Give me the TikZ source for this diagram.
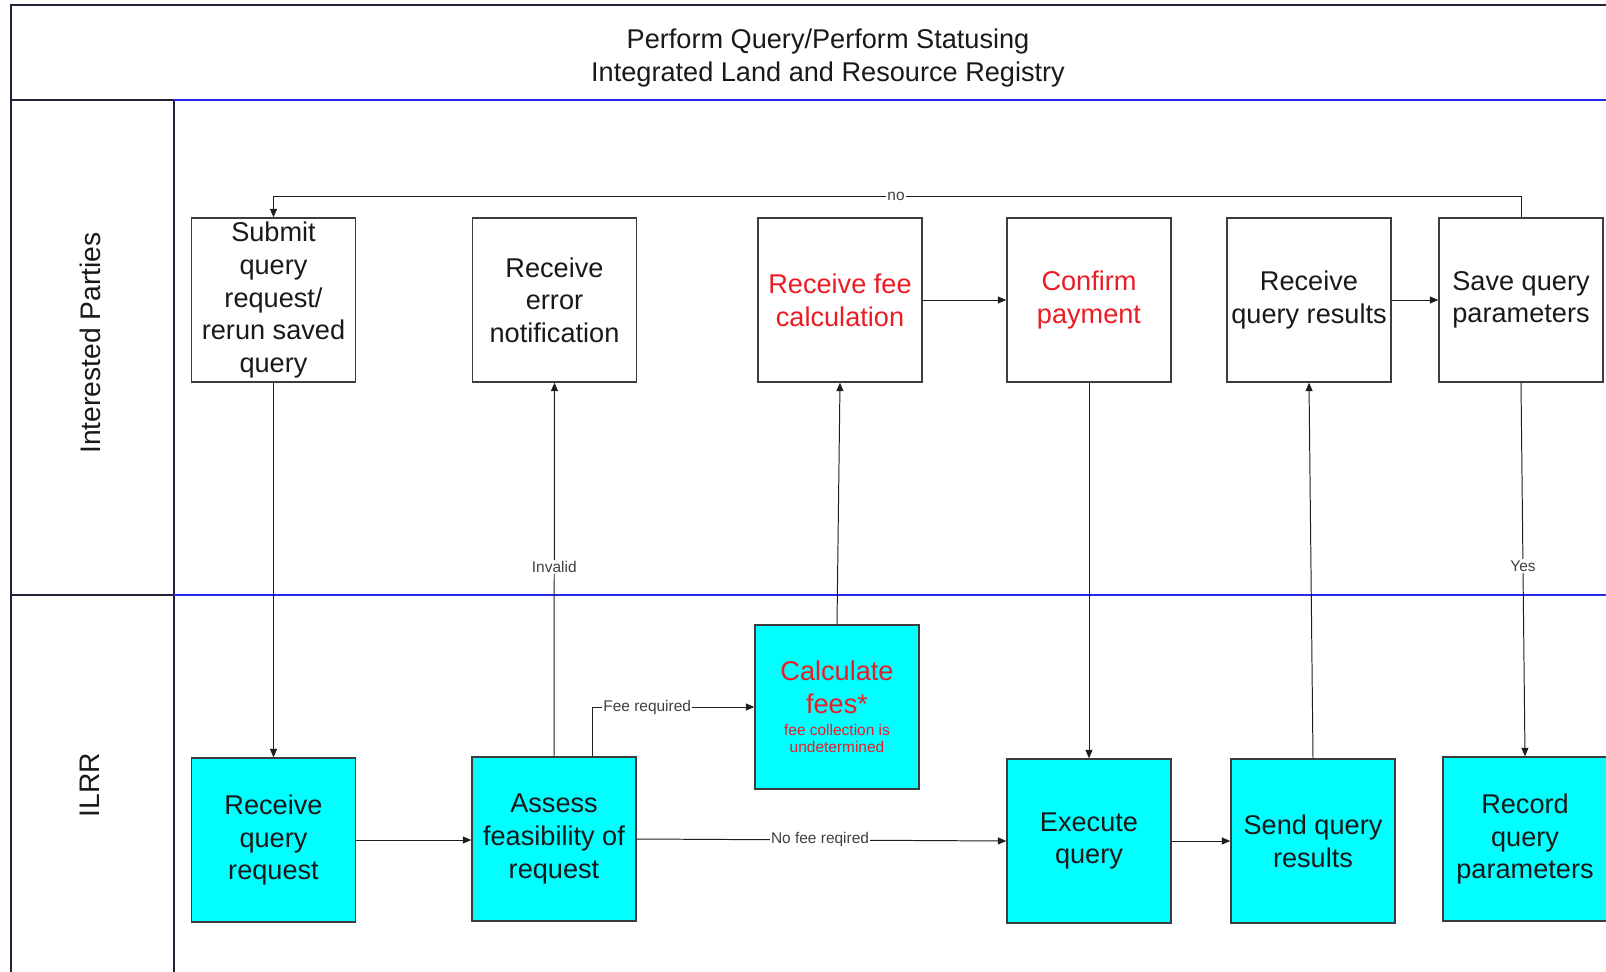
\documentclass[tikz,border=0pt]{standalone}
\usepackage{fontspec}
\setmainfont{Liberation Sans}
\usetikzlibrary{arrows.meta}

\definecolor{taskcyan}{RGB}{0,255,255}
\definecolor{feered}{RGB}{235,28,36}
\definecolor{laneblue}{RGB}{40,40,230}
\definecolor{framegray}{RGB}{35,35,55}
\definecolor{boxedge}{RGB}{60,60,60}
\definecolor{linkgray}{RGB}{30,30,30}

\begin{document}
\begin{tikzpicture}[x=0.025cm,y=-0.025cm,
  bigtext/.style={font=\fontsize{19.3pt}{23.2pt}\selectfont, text=black!90},
  lanetext/.style={font=\fontsize{20.1pt}{24pt}\selectfont, text=black!90},
  taskbox/.style={draw=boxedge, line width=1pt, minimum width=4.1cm,
    minimum height=4.1cm, inner sep=0pt, align=center, bigtext},
  partytask/.style={taskbox, fill=white},
  systask/.style={taskbox, fill=taskcyan},
  feetext/.style={text=feered},
  link/.style={draw=linkgray, line width=0.7pt,
    -{Triangle[length=6pt,width=5pt]}},
  plainlink/.style={draw=linkgray, line width=0.7pt},
  linklabel/.style={fill=white, inner sep=1pt, text=black!75,
    font=\fontsize{11pt}{13pt}\selectfont},
  frameline/.style={draw=framegray, line width=1pt},
  laneline/.style={draw=laneblue, line width=1.3pt}
]
\useasboundingbox (0,0) rectangle (1606,972);

% pool frame and lanes
\draw[frameline] (11,972) -- (11,5) -- (1606,5);
\draw[frameline] (174,972) -- (174,100);
\draw[frameline] (11,100) -- (174,100);
\draw[frameline] (11,595) -- (174,595);
\draw[laneline] (174,100) -- (1606,100);
\draw[laneline] (174,595) -- (1606,595);

\node[bigtext, align=center] (title) at (828,58)
  {Perform Query/Perform Statusing\\Integrated Land and Resource Registry};
\node[lanetext, rotate=90] (laneparties) at (90,343) {Interested Parties};
\node[lanetext, rotate=90] (laneilrr) at (90,785) {ILRR};

% Interested Parties tasks
\node[partytask] (submit)  at (273.5,300) {Submit\\query\\request/\\rerun saved\\query};
\node[partytask] (recverr) at (554.5,300) {Receive\\error\\notification};
\node[partytask, feetext] (recvfee) at (840,300) {Receive fee\\calculation};
\node[partytask, feetext] (confirm) at (1089,300) {Confirm\\payment};
\node[partytask] (recvres) at (1309,300) {Receive\\query results};
\node[partytask] (save)    at (1521,300) {Save query\\parameters};

% ILRR tasks
\node[systask] (recvreq) at (273.5,840) {Receive\\query\\request};
\node[systask] (assess)  at (554,839) {Assess\\feasibility of\\request};
\node[systask, feetext] (calc) at (837,707)
  {Calculate\\fees*\\[-7.6pt]\fontsize{11pt}{12.5pt}\selectfont fee collection is\\[-10.5pt]\fontsize{11pt}{12.5pt}\selectfont undetermined};
\node[systask] (exec)    at (1089,841) {Execute\\query};
\node[systask] (send)    at (1313,841) {Send query\\results};
\node[systask] (record)  at (1525,839) {Record\\query\\parameters};

% flow
\draw[link] (submit.south) -- (recvreq.north);
\draw[link] (recvreq.east) -- (recvreq.east -| assess.west);
\draw[link] (assess.north) -- node[linklabel, pos=0.507] {Invalid} (recverr.south);
\draw[link] ([xshift=0.95cm]assess.north) |- node[linklabel, pos=0.67] {Fee required} (calc.west);
\draw[link] (assess.east) -- node[linklabel, pos=0.496] {No fee reqired} (exec.west);
\draw[link] (calc.north) -- (recvfee.south);
\draw[link] (recvfee.east) -- (confirm.west);
\draw[link] (confirm.south) -- (exec.north);
\draw[link] (exec.east) -- (send.west);
\draw[link] (send.north) -- (recvres.south);
\draw[link] (recvres.east) -- (save.west);
\draw[link] (save.south) -- node[linklabel, pos=0.49] {Yes} (record.north);

% rerun loop back to the first task
\path (save.north) ++(0,-21) coordinate (loopR);
\coordinate (loopL) at (submit.north |- loopR);
\draw[plainlink] (save.north) -- (loopR);
\draw[link] (loopR) -- node[linklabel, pos=0.501] {no} (loopL) -- (submit.north);
\end{tikzpicture}
\end{document}
